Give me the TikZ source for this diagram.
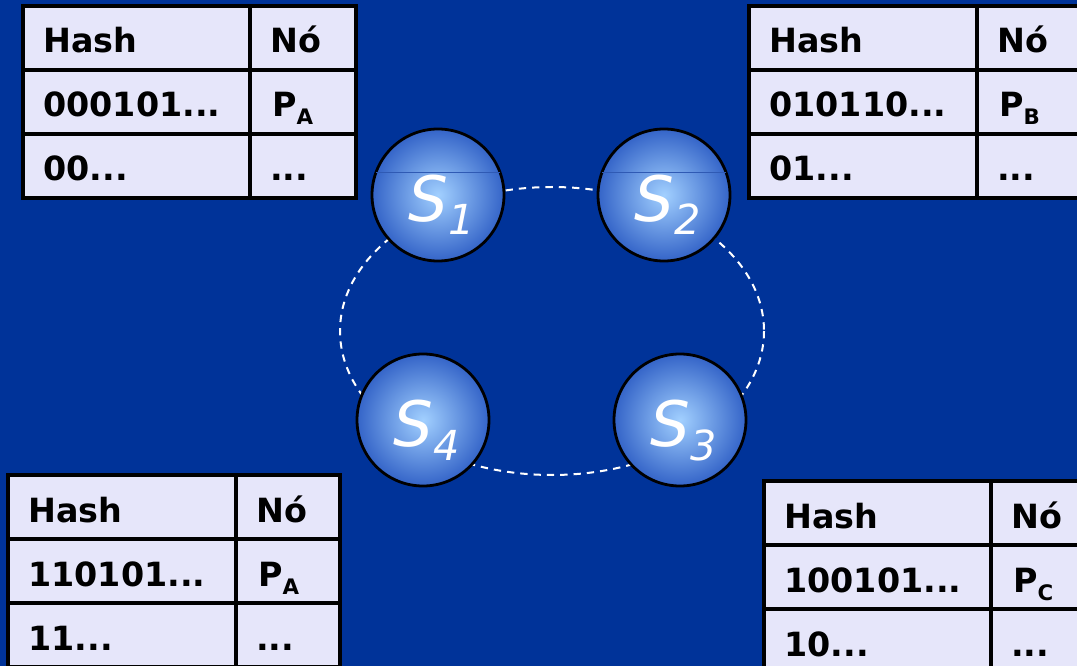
\documentclass[tikz,border=0pt]{standalone}
\usepackage{fontspec}
\setmainfont{DejaVu Sans}[ItalicFont={DejaVu Sans Oblique},BoldFont={DejaVu Sans Bold},BoldItalicFont={DejaVu Sans Bold Oblique}]
\usetikzlibrary{positioning}

\definecolor{slidebg}{HTML}{003399}
\definecolor{cellfill}{HTML}{E6E6FA}
\definecolor{sphlight}{HTML}{A2D0FF}
\definecolor{sphdark}{HTML}{3464C8}

\pgfdeclareradialshading{spherelit}{\pgfpoint{0bp}{0bp}}{color(0bp)=(sphlight); color(25bp)=(sphdark); color(50bp)=(sphdark)}

\newcommand{\lowsub}[1]{\raisebox{-6pt}{\fontsize{16}{16}\selectfont #1}}
\newcommand{\slab}[1]{S\raisebox{-10pt}{\fontsize{31}{31}\selectfont #1}}

\tikzset{
  server/.style={circle, draw=black, line width=2.1pt, minimum size=99pt, inner sep=0pt, shading=spherelit},
  slabel/.style={anchor=base, inner sep=0pt, text=white, font=\fontsize{47}{47}\selectfont\itshape},
  ring/.style={draw=white, line width=1.5pt, dash pattern=on 5.5pt off 4.5pt},
  capline/.style={draw=sphdark!90!black, line width=0.6pt},
  tablecell/.style={fill=cellfill, draw=black, line width=2.4pt},
  tablerule/.style={draw=black, line width=2.4pt},
  celltext/.style={anchor=base west, inner sep=0pt, font=\fontsize{25}{25}\selectfont\bfseries}
}

% x0, split, x2, top; hash row, node letter, prefix row
\newcommand{\hashtable}[8]{%
  \draw[tablecell] (#2,#5) rectangle (#4,#5+192);
  \draw[tablerule] (#3,#5) -- (#3,#5+192);
  \draw[tablerule] (#2,#5+64) -- (#4,#5+64);
  \draw[tablerule] (#2,#5+128) -- (#4,#5+128);
  \node[celltext] (#1-h1) at (#2+20,#5+47) {Hash};
  \node[celltext] (#1-n1) at (#3+20,#5+47) {Nó};
  \node[celltext] (#1-h2) at (#2+20,#5+111) {#6};
  \node[celltext] (#1-n2) at (#3+22,#5+111) {P\lowsub{#7}};
  \node[celltext] (#1-h3) at (#2+20,#5+175) {#8};
  \node[celltext] (#1-n3) at (#3+20,#5+175) {...};
}

\begin{document}
\begin{tikzpicture}[x=0.75pt, y=-0.75pt]
  \path[use as bounding box, fill=slidebg] (0,0) rectangle (1077,666);

  \hashtable{ta}{23}{250}{356}{6}{000101...}{A}{00...}
  \hashtable{tb}{749}{977}{1090}{6}{010110...}{B}{01...}
  \hashtable{td}{8}{236}{340}{475}{110101...}{A}{11...}
  \hashtable{tc}{764}{991}{1090}{481}{100101...}{C}{10...}

  \draw[ring] (552,331) ellipse [x radius=212, y radius=144];

  \node[server] (s1) at (438,195) {};
  \node[server] (s2) at (664,195) {};
  \node[server] (s3) at (680,420) {};
  \node[server] (s4) at (423,420) {};

  \draw[capline] (376,172) -- (500,172);
  \draw[capline] (602,172) -- (726,172);

  \node[slabel] (l1) at ([xshift=3pt,yshift=-20pt]s1.center) {\slab{1}};
  \node[slabel] (l2) at ([xshift=3pt,yshift=-20pt]s2.center) {\slab{2}};
  \node[slabel] (l3) at ([xshift=3pt,yshift=-20pt]s3.center) {\slab{3}};
  \node[slabel] (l4) at ([xshift=3pt,yshift=-20pt]s4.center) {\slab{4}};
\end{tikzpicture}
\end{document}
